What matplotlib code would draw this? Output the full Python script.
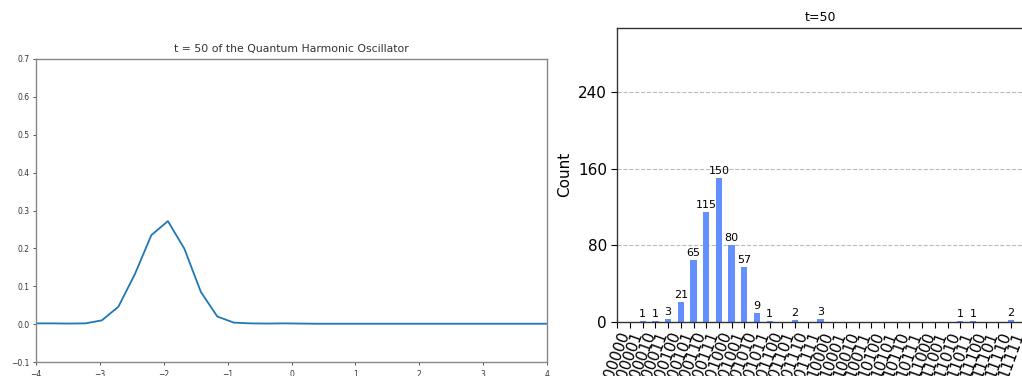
import matplotlib
matplotlib.use('Agg')
import matplotlib.pyplot as plt

# Left panel: probability over position grid
xPos = [-4.000, -3.742, -3.484, -3.226, -2.968, -2.710, -2.452, -2.194,
        -1.935, -1.677, -1.419, -1.161, -0.903, -0.645, -0.387, -0.129,
        0.129, 0.387, 0.645, 0.903, 1.161, 1.419, 1.677, 1.935,
        2.194, 2.452, 2.710, 2.968, 3.226, 3.484, 3.742, 4.000]
prob = [0.002, 0.002, 0.0015, 0.002, 0.010, 0.046, 0.132, 0.235,
        0.272, 0.199, 0.085, 0.020, 0.004, 0.002, 0.0015, 0.002,
        0.0015, 0.001, 0.001, 0.001, 0.001, 0.001, 0.001, 0.001,
        0.001, 0.001, 0.001, 0.001, 0.001, 0.001, 0.001, 0.001]

# Right panel: measurement counts
states = [format(i, '05b') for i in range(32)]
counts = [0, 0, 1, 1, 3, 21, 65, 115, 150, 80, 57, 9, 1, 0, 2, 0,
          3, 0, 0, 0, 0, 0, 0, 0, 0, 0, 0, 1, 1, 0, 0, 2]

fig = plt.figure(figsize=(10.22, 3.76), dpi=100)

######### Left plot ##########
ax1 = fig.add_axes([36/1022, 14/376, 511/1022, 303/376])
ax1.plot(xPos, prob, color='#1f77b4', lw=1.3)
ax1.set_xlim(-4, 4)
ax1.set_ylim(-0.1, 0.7)
ax1.set_xticks([-4, -3, -2, -1, 0, 1, 2, 3, 4])
ax1.set_yticks([-0.1, 0.0, 0.1, 0.2, 0.3, 0.4, 0.5, 0.6, 0.7])
ax1.tick_params(labelsize=5.5, colors='#333333', length=2.5, width=0.6, pad=2)
ax1.tick_params(axis='x', pad=3)
for sp in ax1.spines.values():
    sp.set_color('#888888')
    sp.set_linewidth(1.0)
ax1.set_title('t = 50 of the Quantum Harmonic Oscillator', fontsize=7.8, color='#333333', pad=5)

######### Right plot ##########
ax2 = fig.add_axes([617.3/1022, 54.3/376, 406.4/1022, 294/376])
ax2.set_axisbelow(True)
ax2.grid(axis='y', ls='--', color='#bbbbbb', lw=0.8)
ax2.bar(range(len(states)), counts, width=0.5, color='#648fff')
for i in range(len(counts)):
    if counts[i] > 0:
        ax2.text(i, counts[i] + 2, str(counts[i]), ha='center', va='bottom', fontsize=8)
ax2.set_xlim(0, 32)
ax2.set_ylim(0, 307.5)
ax2.set_yticks([0, 80, 160, 240])
ax2.set_xticks(range(len(states)))
ax2.set_xticklabels(states, rotation=70, fontsize=11)
ax2.tick_params(axis='y', labelsize=11)
ax2.tick_params(length=4, width=0.8)
ax2.tick_params(axis='x', pad=2)
ax2.set_ylabel('Count', fontsize=11)
for sp in ax2.spines.values():
    sp.set_color('#333333')
    sp.set_linewidth(1.0)
ax2.set_title('t=50', fontsize=9, pad=5)

fig.savefig('out.png', dpi=100)
